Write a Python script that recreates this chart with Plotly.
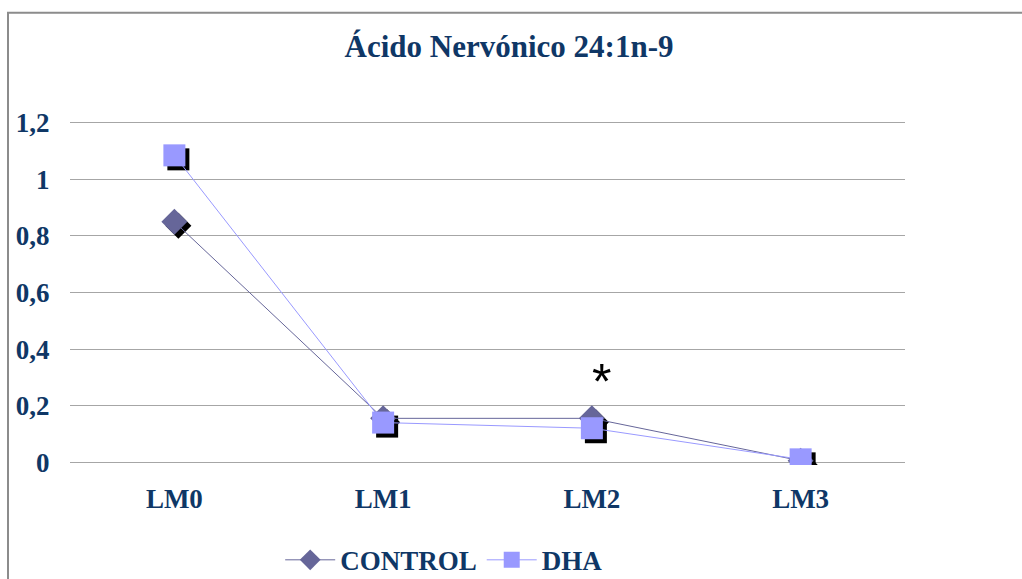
import plotly.graph_objects as go

# Series data
categories = ["LM0", "LM1", "LM2", "LM3"]
control = [0.85, 0.155, 0.155, 0.005]
dha = [1.085, 0.14, 0.12, 0.01]
y_ticks = [0, 0.2, 0.4, 0.6, 0.8, 1.0, 1.2]
y_tick_labels = ["0", "0,2", "0,4", "0,6", "0,8", "1", "1,2"]
sig_label = "*"
sig_category = "LM2"
sig_y = 0.285

# Page geometry (pixels)
W, H = 1022, 579
PL, PR = 70, 905           # plot area left / right
Y0_PX, YTOP_PX = 462, 123  # pixel rows of y=0 and y=1.2
SHADOW = 4                 # shadow offset in px
FRAME_L, FRAME_T = 8, 13

NAVY = "#0f3766"
C_CTRL = "#666699"
C_DHA = "#9999ff"
SERIF = "Liberation Serif, Times New Roman, serif"

YPAD = 0.01
y_range = [y_ticks[0] - YPAD, y_ticks[-1] + YPAD]
px_per_y = (Y0_PX - YTOP_PX) / (y_ticks[-1] - y_ticks[0])
PT = YTOP_PX - YPAD * px_per_y
PB = Y0_PX + YPAD * px_per_y

x_range = [-0.5, len(categories) - 0.5]
px_per_x = (PR - PL) / (x_range[1] - x_range[0])
dx = SHADOW / px_per_x
dy = SHADOW / px_per_y

xi = list(range(len(categories)))

fig = go.Figure()

# Drop shadows of the markers, drawn on a base axis pair offset by a few px
fig.add_trace(go.Scatter(x=xi, y=control, mode="markers", xaxis="x", yaxis="y",
                         marker=dict(symbol="diamond", size=20, color="black"),
                         showlegend=False, hoverinfo="skip"))
fig.add_trace(go.Scatter(x=xi, y=dha, mode="markers", xaxis="x", yaxis="y",
                         marker=dict(symbol="square", size=22, color="black"),
                         showlegend=False, hoverinfo="skip"))

# Main series
fig.add_trace(go.Scatter(x=xi, y=control, mode="lines+markers", name="<b>CONTROL</b>",
                         xaxis="x2", yaxis="y2",
                         line=dict(color=C_CTRL, width=1),
                         marker=dict(symbol="diamond", size=20, color=C_CTRL)))
fig.add_trace(go.Scatter(x=xi, y=dha, mode="lines+markers", name="<b>DHA</b>",
                         xaxis="x2", yaxis="y2",
                         line=dict(color=C_DHA, width=1),
                         marker=dict(symbol="square", size=22, color=C_DHA)))

fig.add_annotation(x=categories.index(sig_category) + 0.045, y=sig_y, xref="x2", yref="y2",
                   text=sig_label, showarrow=False,
                   font=dict(family="Liberation Sans, Arial", size=50, color="black"),
                   yanchor="middle")

frame_x0 = (FRAME_L - PL) / (PR - PL)
frame_x1 = (W + 20 - PL) / (PR - PL)
frame_y1 = (PB - FRAME_T) / (PB - PT)
frame_y0 = (PB - (H + 20)) / (PB - PT)

fig.update_layout(
    width=W, height=H,
    margin=dict(l=PL, r=W - PR, t=PT, b=H - PB, pad=0, autoexpand=False),
    paper_bgcolor="white", plot_bgcolor="white",
    title=dict(text="<b>Ácido Nervónico 24:1n-9</b>", x=509 / W, xanchor="center",
               y=1 - 46 / H, yanchor="middle",
               font=dict(family=SERIF, size=31, color=NAVY)),
    xaxis=dict(range=[x_range[0] - dx, x_range[1] - dx], visible=False, fixedrange=True),
    yaxis=dict(range=[y_range[0] + dy, y_range[1] + dy], visible=False, fixedrange=True),
    xaxis2=dict(overlaying="x", range=x_range, tickmode="array", tickvals=xi,
                ticktext=[f"<b>{c}</b>" for c in categories], showgrid=False,
                zeroline=False, showline=False, ticks="outside", ticklen=10,
                tickcolor="rgba(0,0,0,0)",
                tickfont=dict(family=SERIF, size=27, color=NAVY)),
    yaxis2=dict(overlaying="y", range=y_range, tickmode="array", tickvals=y_ticks,
                ticktext=[f"<b>{t}</b>" for t in y_tick_labels], showgrid=True,
                gridcolor="#a6a6a6", gridwidth=1, zeroline=False, showline=False,
                ticks="outside", ticklen=14, tickcolor="rgba(0,0,0,0)",
                tickfont=dict(family=SERIF, size=27, color=NAVY)),
    legend=dict(orientation="h", x=458 / W, xanchor="center",
                y=-(560 - PB) / (PB - PT), yanchor="middle",
                itemwidth=50,
                font=dict(family=SERIF, size=27, color=NAVY),
                bgcolor="rgba(0,0,0,0)"),
    shapes=[dict(type="rect", xref="paper", yref="paper",
                 x0=frame_x0, x1=frame_x1, y0=frame_y0, y1=frame_y1,
                 line=dict(color="#8c8c8c", width=2), layer="below")],
    showlegend=True,
)

fig.write_html("out.html")
